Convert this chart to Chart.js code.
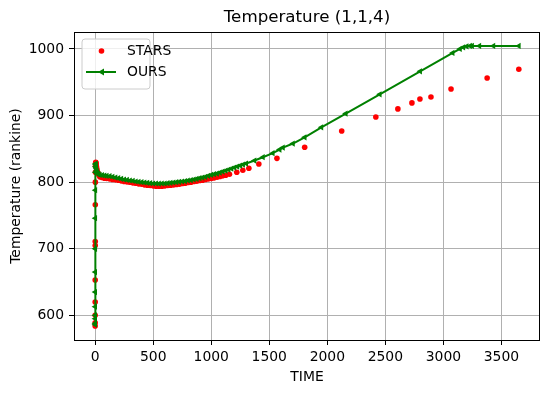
<!DOCTYPE html>
<html>
<head>
<meta charset="utf-8">
<script src="https://cdn.jsdelivr.net/npm/chart.js@4.4.1/dist/chart.umd.min.js"></script>
<style>
html,body{margin:0;padding:0;background:#fff;}
#c{display:block;}
</style>
</head>
<body>
<canvas id="c" width="549" height="393"></canvas>
<script>
// ---- data ----
const chartTitle = "Temperature (1,1,4)";
const xLabel = "TIME";
const yLabel = "Temperature (rankine)";
const xTicks = [0, 500, 1000, 1500, 2000, 2500, 3000, 3500];
const yTicks = [600, 700, 800, 900, 1000];

const starsTime = [0, 0.02, 0.05, 0.1, 0.2, 0.4, 0.5, 1, 1.5, 2, 3, 4, 5, 6, 8, 10, 13, 16, 20, 25, 30,
  40, 60, 80, 100, 125, 150, 175, 200, 225, 250, 275, 300, 325, 350, 375, 400, 425, 450, 475, 500,
  525, 550, 575, 600, 625, 650, 675, 700, 725, 750, 775, 800, 825, 850, 875, 900, 925, 950, 975, 1000,
  1025, 1050, 1075, 1100, 1125, 1157, 1220, 1272, 1324, 1410, 1566, 1805, 2124, 2418, 2608, 2729,
  2798, 2893, 3066, 3377, 3650];
const starsTemp = [584, 589, 600, 620, 653, 705, 711, 766, 800, 815, 824, 828, 830, 829, 827, 824, 821, 818, 815, 813, 811,
  808, 807, 806, 805.5, 805, 804, 803.5, 803, 802, 801, 800.5, 800, 799, 798.5, 797.5, 797, 796, 795.5, 795, 794.5,
  794, 794, 794, 794.5, 795, 795.5, 796, 796.5, 797, 798, 798.5, 799.5, 800, 801, 801.5, 802.5, 803, 804, 805, 805.5,
  806.5, 807.5, 808.5, 809.5, 810.5, 811.8, 815, 818, 821, 827.3, 835.8, 852.4, 876.8, 897.9, 910, 919,
  925, 928, 940, 956.4, 969.5];

const oursTime = [0, 0.02, 0.04, 0.06, 0.1, 0.2, 0.35, 0.5, 0.8, 1.2, 2, 3, 4, 5, 6, 8, 10, 13, 16, 20, 25, 30,
  40, 60, 80, 100, 125, 150, 175, 200, 225, 250, 275, 300, 325, 350, 375, 400, 425, 450, 475, 500,
  525, 550, 575, 600, 625, 650, 675, 700, 725, 750, 775, 800, 825, 850, 875, 900, 925, 950, 975, 1000,
  1025, 1050, 1075, 1100, 1125, 1150, 1175, 1200, 1225, 1250, 1275, 1301, 1373, 1445, 1530, 1589, 1618,
  1704, 1805, 1949, 2159, 2452, 2800, 3080, 3143, 3172, 3201, 3230, 3247, 3310, 3431, 3650];
const oursTemp = [586, 588, 595, 600, 613, 635, 665, 700, 746, 788, 815, 823, 827, 828, 826, 823, 820, 817, 815, 813.5, 812.5, 812,
  811, 810.5, 810, 809.5, 809, 808, 807, 806, 805, 804, 803.3, 802.5, 802, 801, 800.5, 800, 799.5, 799, 798.5, 798,
  798, 797.8, 798, 798, 798.5, 799, 799.5, 800, 800.5, 801, 801.5, 802.5, 803, 804, 805, 806, 807, 808, 809.5, 810.8,
  812, 813, 814.5, 816, 817.3, 818.8, 820.3, 822, 823.5, 825, 826.5, 828, 832.5, 837.5, 843.5, 849, 852,
  858, 867.4, 882.4, 903, 932, 966.5, 994, 1000, 1002.5, 1004, 1004.5, 1004.5, 1004.5, 1004.5, 1004.5];

// ---- chart ----
const FONT = "DejaVu Sans";
Chart.defaults.font.family = FONT;
Chart.defaults.font.size = 13.9;
Chart.defaults.color = "#000";

const frameAndText = {
  id: "frameAndText",
  afterDraw(chart) {
    const {ctx, chartArea: a} = chart;
    ctx.save();
    // frame (spines)
    ctx.strokeStyle = "#000";
    ctx.lineWidth = 1;
    ctx.strokeRect(a.left + 0.5, a.top + 0.5, a.right - a.left - 1, a.bottom - a.top);
    // title
    ctx.fillStyle = "#000";
    ctx.font = "16.7px '" + FONT + "'";
    ctx.textAlign = "center";
    ctx.textBaseline = "alphabetic";
    ctx.fillText(chartTitle, (a.left + a.right) / 2, 22);
    // legend
    const bx = 82, by = 39, bw = 68, bh = 50, r = 3;
    ctx.beginPath();
    ctx.moveTo(bx + r, by);
    ctx.arcTo(bx + bw, by, bx + bw, by + bh, r);
    ctx.arcTo(bx + bw, by + bh, bx, by + bh, r);
    ctx.arcTo(bx, by + bh, bx, by, r);
    ctx.arcTo(bx, by, bx + bw, by, r);
    ctx.closePath();
    ctx.fillStyle = "rgba(255,255,255,0.8)";
    ctx.fill();
    ctx.strokeStyle = "#cccccc";
    ctx.lineWidth = 1;
    ctx.stroke();
    // STARS entry
    ctx.fillStyle = "#ff0000";
    ctx.beginPath();
    ctx.arc(101.5, 51, 2.8, 0, Math.PI * 2);
    ctx.fill();
    // OURS entry
    ctx.strokeStyle = "#008000";
    ctx.lineWidth = 2;
    ctx.beginPath();
    ctx.moveTo(86, 72);
    ctx.lineTo(116, 72);
    ctx.stroke();
    ctx.fillStyle = "#008000";
    ctx.beginPath();
    ctx.moveTo(98, 72);
    ctx.lineTo(104, 68.5);
    ctx.lineTo(104, 75.5);
    ctx.closePath();
    ctx.fill();
    ctx.fillStyle = "#000";
    ctx.font = "13.9px '" + FONT + "'";
    ctx.textAlign = "left";
    ctx.textBaseline = "middle";
    ctx.fillText("STARS", 127, 51);
    ctx.fillText("OURS", 127, 72);
    ctx.restore();
  }
};

new Chart(document.getElementById("c"), {
  type: "scatter",
  data: {
    datasets: [
      {
        label: "OURS",
        data: oursTime.map((t, i) => ({x: t, y: oursTemp[i]})),
        showLine: true,
        borderColor: "#008000",
        backgroundColor: "#008000",
        borderWidth: 2,
        pointStyle: "triangle",
        rotation: -90,
        pointRadius: 3.6,
        pointBorderWidth: 0,
        tension: 0,
        order: 0
      },
      {
        label: "STARS",
        data: starsTime.map((t, i) => ({x: t, y: starsTemp[i]})),
        showLine: false,
        borderColor: "#ff0000",
        backgroundColor: "#ff0000",
        pointStyle: "circle",
        pointRadius: 2.8,
        pointBorderWidth: 0,
        order: 1
      }
    ]
  },
  options: {
    responsive: false,
    animation: false,
    devicePixelRatio: 1,
    layout: {padding: {left: 0, right: 9, top: 32, bottom: 0}},
    plugins: {legend: {display: false}, tooltip: {enabled: false}, title: {display: false}},
    scales: {
      x: {
        type: "linear",
        min: -182.5,
        max: 3832.5,
        afterBuildTicks: s => { s.ticks = xTicks.map(v => ({value: v})); },
        afterFit: s => { s.height = 53; },
        ticks: {callback: v => String(v), padding: 4, maxRotation: 0, autoSkip: false, font: {size: 13.9}},
        grid: {color: "#b0b0b0", lineWidth: 1, tickColor: "#000", tickLength: 5, drawTicks: true},
        border: {display: false},
        title: {display: true, text: xLabel, font: {size: 13.9}, padding: {top: 0, bottom: 7.2}}
      },
      y: {
        type: "linear",
        min: 563,
        max: 1025.5,
        afterBuildTicks: s => { s.ticks = yTicks.map(v => ({value: v})); },
        afterFit: s => { s.width = 74; },
        ticks: {callback: v => String(v), padding: 5, autoSkip: false, font: {size: 13.9}},
        grid: {color: "#b0b0b0", lineWidth: 1, tickColor: "#000", tickLength: 5, drawTicks: true},
        border: {display: false},
        title: {display: true, text: yLabel, font: {size: 13.9}, padding: {top: 7.7, bottom: 0}}
      }
    }
  },
  plugins: [frameAndText]
});
</script>
</body>
</html>
